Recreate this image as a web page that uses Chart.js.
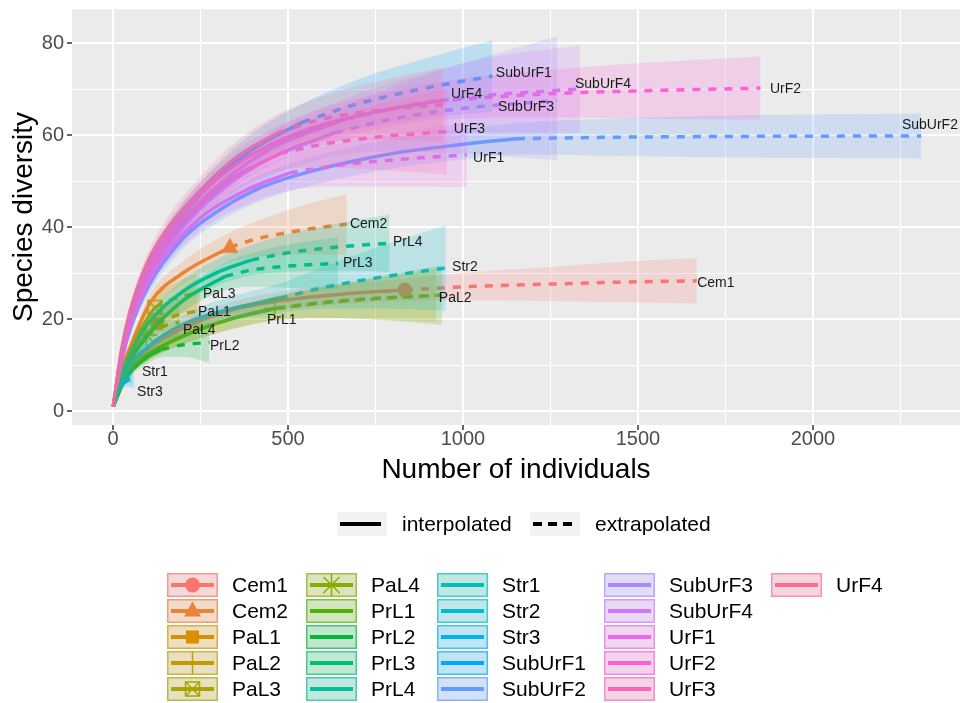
<!DOCTYPE html>
<html>
<head>
<meta charset="utf-8">
<script src="https://cdn.jsdelivr.net/npm/chart.js@4.4.1/dist/chart.umd.min.js"></script>
<style>
  html, body { margin: 0; padding: 0; background: #fff; }
</style>
</head>
<body>
<canvas id="curves" width="960" height="703"></canvas>
<script>
// sites, in legend order
const sites = ['Cem1', 'Cem2', 'PaL1', 'PaL2', 'PaL3', 'PaL4', 'PrL1', 'PrL2', 'PrL3', 'PrL4',
  'Str1', 'Str2', 'Str3', 'SubUrF1', 'SubUrF2', 'SubUrF3', 'SubUrF4', 'UrF1', 'UrF2', 'UrF3', 'UrF4'];

// observed number of individuals (end of the interpolated part)
const observedN = [834, 334, 126, 462, 120, 95, 470, 138, 321, 395, 27, 476, 30, 542, 1154, 635, 667, 505, 925, 477, 472];

// rows: [individuals, species, lower CI, upper CI]
const rowsCem1 = [[1,1,1,1],[50,9.5,8.6,10.4],[100,13.5,12.3,14.7],[200,18,16.5,19.5],[343,22,20.2,23.8],[500,24.2,22.2,26.2],[650,25.4,23.2,27.6],[834,26.3,23.9,28.7],[1000,27,24,30],[1250,27.6,23.9,31.3],[1500,28.1,23.6,32.6],[1668,28.3,23.4,33.2]];
const rowsCem2 = [[1,1,1,1],[25,9,8.1,9.9],[50,14,12.7,15.3],[106,23.5,21.6,25.4],[200,30,27.5,32.5],[334,35.6,32.4,38.8],[400,37.2,33.4,41],[500,38.8,33.9,43.7],[600,40,34.1,45.9],[668,40.6,34,47.2]];
const rowsPaL1 = [[1,1,1,1],[25,7,6.1,7.9],[50,11.5,10.1,12.9],[90,16,14.1,17.9],[126,19,16.6,21.4],[170,20.5,17.4,23.6],[210,21.3,17.6,25],[252,21.8,17.6,26]];
const rowsPaL2 = [[1,1,1,1],[25,6,5.3,6.7],[50,9,8,10],[100,12.3,11,13.6],[150,14.5,13,16],[250,17.8,15.8,19.8],[350,20.3,18,22.6],[462,22.3,19.7,24.9],[600,23.5,20.1,26.9],[750,24.4,19.9,28.9],[924,25.1,19.4,30.8]];
const rowsPaL3 = [[1,1,1,1],[25,8,7.1,8.9],[50,13,11.6,14.4],[85,18.5,16.5,20.5],[120,22.5,20,25],[160,24,20.9,27.1],[200,25,21.3,28.7],[240,25.6,21.4,29.8]];
const rowsPaL4 = [[1,1,1,1],[25,7,6.1,7.9],[50,11,9.7,12.3],[95,16.5,14.4,18.6],[130,18,15.3,20.7],[160,18.8,15.6,22],[190,19.3,15.7,22.9]];
const rowsPrL1 = [[1,1,1,1],[25,6,5.3,6.7],[50,9,8,10],[100,12.3,11,13.6],[150,14.5,13,16],[250,17.8,15.8,19.8],[350,20.3,18,22.6],[470,22.4,19.8,25],[600,23.6,20.3,26.9],[750,24.5,19.9,29.1],[940,25.2,18.7,31.7]];
const rowsPrL2 = [[1,1,1,1],[25,5.5,4.8,6.2],[50,8.5,7.5,9.5],[100,11.8,10.4,13.2],[138,13.4,11.7,15.1],[200,14.4,11.8,17],[276,14.9,10.5,19.3]];
const rowsPrL3 = [[1,1,1,1],[25,7,6.2,7.8],[50,11,9.8,12.2],[100,16.5,14.8,18.2],[200,24,21.5,26.5],[321,29.3,26.3,32.3],[400,30.7,27,34.4],[500,31.5,26.8,36.2],[643,32.1,26.5,37.7]];
const rowsPrL4 = [[1,1,1,1],[25,8,7.2,8.8],[50,12.5,11.2,13.8],[100,19,17.2,20.8],[200,26,23.5,28.5],[300,30.2,27.3,33.1],[395,32.8,29.5,36.1],[500,34.4,30.3,38.5],[650,35.7,30.5,40.9],[790,36.5,30.3,42.7]];
const rowsStr1 = [[1,1,1,1],[10,4,3.5,4.5],[20,5.8,5.1,6.5],[27,6.6,5.7,7.5],[40,7.4,6.1,8.7],[54,7.8,5.9,9.7]];
const rowsStr2 = [[1,1,1,1],[25,6.5,5.8,7.2],[50,10,9,11],[100,14,12.6,15.4],[200,18.8,16.8,20.8],[300,21.5,19,24],[476,24.5,21.3,27.7],[600,26.8,22.3,31.3],[750,28.9,22.3,35.5],[951,31.1,21.8,40.4]];
const rowsStr3 = [[1,1,1,1],[10,3.8,3.3,4.3],[20,5.2,4.5,5.9],[30,6,5.1,6.9],[45,6.8,5.3,8.3],[60,7.2,4.9,9.5]];
const rowsSubUrF1 = [[1,1,1,1],[25,13,12,14],[50,21,19.5,22.5],[100,31,29,33],[150,37.5,35.2,39.8],[250,47,44.2,49.8],[391,56.5,53,60],[542,62.8,58.8,66.8],[700,66.8,61.5,72.1],[900,70.3,63.8,76.8],[1084,72.8,65,80.6]];
const rowsSubUrF2 = [[1,1,1,1],[25,11,10,12],[50,18,16.6,19.4],[100,27,25.2,28.8],[200,37.5,35.3,39.7],[300,43.5,41,46],[400,47.8,45,50.6],[514,51,48,54],[763,55.5,52.3,58.7],[1000,58,54.7,61.3],[1154,59.2,55.8,62.6],[1400,59.5,55.5,63.5],[1800,59.7,55.1,64.3],[2309,59.8,54.9,64.7]];
const rowsSubUrF3 = [[1,1,1,1],[25,12,11,13],[50,19.5,18,21],[100,29,27,31],[200,40,37.5,42.5],[300,47.5,44.5,50.5],[450,55,51,59],[635,60.5,55.5,65.5],[800,63.5,56.5,70.5],[1000,65.8,56,75.6],[1269,67.5,54.5,81.5]];
const rowsSubUrF4 = [[1,1,1,1],[25,12.5,11.5,13.5],[50,20.5,19,22],[100,30.5,28.5,32.5],[200,41.5,39,44],[300,49,46,52],[450,57,53.5,60.5],[667,63.5,59,68],[850,66.5,60.5,72.5],[1050,68.5,60.5,76.5],[1334,70,60.5,79.5]];
const rowsUrF1 = [[1,1,1,1],[25,11,10,12],[50,18.5,17,20],[100,28,26,30],[150,34,31.7,36.3],[250,42,39.3,44.7],[380,48,44.8,51.2],[505,51.8,48,55.6],[650,53.5,48.8,58.2],[800,54.6,48.8,60.4],[1011,55.7,48.7,62.7]];
const rowsUrF2 = [[1,1,1,1],[25,13,12,14],[50,21.5,20,23],[100,31.5,29.5,33.5],[200,43,40.5,45.5],[350,53.5,50.5,56.5],[550,61,57.5,64.5],[750,65,61.2,68.8],[925,67.4,63.3,71.5],[1200,68.8,63.8,73.8],[1500,69.6,63.6,75.6],[1850,70.2,63.3,77.1]];
const rowsUrF3 = [[1,1,1,1],[25,12,11,13],[50,19.5,18,21],[100,29.5,27.5,31.5],[150,36,33.5,38.5],[250,45,42,48],[350,51,47.8,54.2],[477,56,52.2,59.8],[600,58,53,63],[750,59.5,52.5,66.5],[954,60.8,51.5,70.1]];
const rowsUrF4 = [[1,1,1,1],[25,13.5,12.5,14.5],[50,22,20.5,23.5],[100,32.5,30.5,34.5],[150,39,36.5,41.5],[250,48,45,51],[350,55,51.5,58.5],[472,60.5,56.5,64.5],[600,63.5,58.5,68.5],[750,65.3,59,71.6],[943,66.6,58.5,74.7]];

const siteRows = [rowsCem1, rowsCem2, rowsPaL1, rowsPaL2, rowsPaL3, rowsPaL4, rowsPrL1, rowsPrL2, rowsPrL3, rowsPrL4,
  rowsStr1, rowsStr2, rowsStr3, rowsSubUrF1, rowsSubUrF2, rowsSubUrF3, rowsSubUrF4, rowsUrF1, rowsUrF2, rowsUrF3, rowsUrF4];

// where the site names sit (data units: left edge, middle)
const labelX = [1669, 677, 243, 931, 257, 200, 440, 277, 657, 800, 83, 969, 69, 1094, 2254, 1100, 1320, 1029, 1877, 974, 966];
const labelY = [27.8, 40.7, 21.5, 24.6, 25.4, 17.6, 19.8, 14.1, 32.2, 36.7, 8.5, 31.3, 4.1, 73.5, 62.2, 66.1, 71, 55, 70, 61.3, 68.9];

const xMajor = [0, 500, 1000, 1500, 2000];
const xMinor = [250, 750, 1250, 1750, 2250];
const yMajor = [0, 20, 40, 60, 80];
const yMinor = [10, 30, 50, 70];

// ggplot hue palette for 21 groups
const colours = ['#F8766D', '#EB8335', '#DA8F00', '#C49A00', '#AAA300', '#86AC00', '#50B400', '#00B93A', '#00BE6D', '#00C096',
  '#00C0B6', '#00BDD3', '#00B5EC', '#00A9FF', '#619CFF', '#A58AFF', '#CF78FF', '#EA69EF', '#FB61D7', '#FF62B8', '#FF6C8F'];
const shapes = ['circle', 'triangle', 'square', 'plus', 'boxx', 'asterisk'];

const FONT = '"Liberation Sans", Arial, Helvetica, sans-serif';
// panel rectangle of the reference, in canvas pixels
const PANEL = { left: 72, top: 9, right: 960, bottom: 425 };

function rgba(hex, a) {
  const n = parseInt(hex.slice(1), 16);
  return 'rgba(' + (n >> 16) + ',' + ((n >> 8) & 255) + ',' + (n & 255) + ',' + a + ')';
}

function drawShape(ctx, shape, x, y, col) {
  ctx.save();
  ctx.fillStyle = col;
  ctx.strokeStyle = col;
  ctx.lineWidth = 1.5;
  ctx.beginPath();
  if (shape === 'circle') {
    ctx.arc(x, y, 7.5, 0, Math.PI * 2);
    ctx.fill();
  } else if (shape === 'triangle') {
    ctx.moveTo(x, y - 9.5);
    ctx.lineTo(x + 8.5, y + 5.5);
    ctx.lineTo(x - 8.5, y + 5.5);
    ctx.closePath();
    ctx.fill();
  } else if (shape === 'square') {
    ctx.rect(x - 6.5, y - 6.5, 13, 13);
    ctx.fill();
  } else if (shape === 'plus') {
    ctx.moveTo(x - 11, y); ctx.lineTo(x + 11, y);
    ctx.moveTo(x, y - 11); ctx.lineTo(x, y + 11);
    ctx.stroke();
  } else if (shape === 'boxx') {
    ctx.rect(x - 7, y - 7, 14, 14);
    ctx.moveTo(x - 7, y - 7); ctx.lineTo(x + 7, y + 7);
    ctx.moveTo(x + 7, y - 7); ctx.lineTo(x - 7, y + 7);
    ctx.stroke();
  } else if (shape === 'asterisk') {
    ctx.moveTo(x - 11, y); ctx.lineTo(x + 11, y);
    ctx.moveTo(x, y - 11); ctx.lineTo(x, y + 11);
    ctx.moveTo(x - 8, y - 8); ctx.lineTo(x + 8, y + 8);
    ctx.moveTo(x + 8, y - 8); ctx.lineTo(x - 8, y + 8);
    ctx.stroke();
  }
  ctx.restore();
}

function shapeImage(shape, col) {
  const c = document.createElement('canvas');
  c.width = 26; c.height = 26;
  drawShape(c.getContext('2d'), shape, 13, 13, col);
  return c;
}

// build datasets: ribbons on top of lines, lines on top of points (ggiNEXT layer order)
const datasets = [];
sites.forEach((name, gi) => {
  const rows = siteRows[gi];
  const n = observedN[gi];
  const col = colours[gi];
  const top = 21 - gi;
  datasets.push({
    label: name + ' upper', data: rows.map(r => ({ x: r[0], y: r[3] })),
    borderColor: 'rgba(0,0,0,0)', borderWidth: 1, pointRadius: 0, fill: false, order: top
  });
  datasets.push({
    label: name + ' lower', data: rows.map(r => ({ x: r[0], y: r[2] })),
    borderColor: 'rgba(0,0,0,0)', borderWidth: 1, pointRadius: 0, fill: '-1',
    backgroundColor: rgba(col, 0.2), order: top
  });
  datasets.push({
    label: name + ' interpolated', data: rows.filter(r => r[0] <= n).map(r => ({ x: r[0], y: r[1] })),
    borderColor: col, borderWidth: 3.5, pointRadius: 0, fill: false, order: 100 + top
  });
  datasets.push({
    label: name + ' extrapolated', data: rows.filter(r => r[0] >= n).map(r => ({ x: r[0], y: r[1] })),
    borderColor: col, borderWidth: 3.5, borderDash: [8, 8], borderCapStyle: 'butt',
    pointRadius: 0, fill: false, order: 100 + top
  });
  if (gi < shapes.length) {
    const obs = rows.find(r => r[0] === n);
    datasets.push({
      label: name + ' observed', data: [{ x: n, y: obs[1] }], showLine: false,
      pointStyle: shapeImage(shapes[gi], col), pointRadius: 9, order: 200 + top
    });
  }
});

const panelPlugin = {
  id: 'panel',
  beforeDraw(chart) {
    const { ctx, chartArea: a } = chart;
    ctx.save();
    ctx.fillStyle = '#FFFFFF';
    ctx.fillRect(0, 0, chart.width, chart.height);
    ctx.fillStyle = '#EBEBEB';
    ctx.fillRect(a.left, a.top, a.right - a.left, a.bottom - a.top);
    ctx.restore();
  }
};

const labelPlugin = {
  id: 'siteLabels',
  afterDatasetsDraw(chart) {
    const { ctx, scales } = chart;
    ctx.save();
    ctx.font = '14px ' + FONT;
    ctx.fillStyle = '#1A1A1A';
    ctx.textAlign = 'left';
    ctx.textBaseline = 'middle';
    sites.forEach((name, i) => {
      ctx.fillText(name, scales.x.getPixelForValue(labelX[i]), scales.y.getPixelForValue(labelY[i]));
    });
    ctx.restore();
  }
};

const legendPlugin = {
  id: 'ggLegends',
  afterDraw(chart) {
    const ctx = chart.ctx;
    ctx.save();
    ctx.font = '21px ' + FONT;
    ctx.textBaseline = 'middle';
    ctx.textAlign = 'left';

    // linetype legend
    const lt = [{ x: 337, dash: [], text: 'interpolated' }, { x: 530, dash: [9, 6], text: 'extrapolated' }];
    lt.forEach(k => {
      ctx.fillStyle = '#F2F2F2';
      ctx.fillRect(k.x, 512, 50, 24);
      ctx.strokeStyle = '#000000';
      ctx.lineWidth = 4;
      ctx.setLineDash(k.dash);
      ctx.beginPath();
      ctx.moveTo(k.x + 3, 524);
      ctx.lineTo(k.x + 44, 524);
      ctx.stroke();
      ctx.setLineDash([]);
      ctx.fillStyle = '#000000';
      ctx.fillText(k.text, k.x + 65, 525);
    });

    // site legend, 5 rows, filled by column
    const colX = [167, 306, 437, 604, 771];
    sites.forEach((name, i) => {
      const c = Math.floor(i / 5), r = i % 5;
      const x = colX[c], y = 573 + r * 26;
      const col = colours[i];
      ctx.fillStyle = '#F2F2F2';
      ctx.fillRect(x, y, 51, 24);
      ctx.fillStyle = rgba(col, 0.2);
      ctx.fillRect(x, y, 51, 24);
      ctx.strokeStyle = rgba(col, 0.65);
      ctx.lineWidth = 1.5;
      ctx.strokeRect(x + 0.75, y + 0.75, 49.5, 22.5);
      ctx.strokeStyle = col;
      ctx.lineWidth = 4;
      ctx.beginPath();
      ctx.moveTo(x + 4, y + 12);
      ctx.lineTo(x + 47, y + 12);
      ctx.stroke();
      if (i < shapes.length) drawShape(ctx, shapes[i], x + 25.5, y + 12, col);
      ctx.fillStyle = '#000000';
      ctx.fillText(name, x + 65, y + 13);
    });
    ctx.restore();
  }
};

const isMajorX = v => xMajor.includes(v);
const isMajorY = v => yMajor.includes(v);

function noScalePadding(s) {
  s.paddingTop = 0; s.paddingBottom = 0; s.paddingLeft = 0; s.paddingRight = 0;
}

const chart = new Chart(document.getElementById('curves'), {
  type: 'line',
  data: { datasets },
  options: {
    responsive: false,
    animation: false,
    events: [],
    layout: { autoPadding: false, padding: { top: 9, right: 0, bottom: 210, left: 0 } },
    elements: { line: { cubicInterpolationMode: 'monotone' } },
    plugins: { legend: { display: false }, tooltip: { enabled: false } },
    scales: {
      x: {
        type: 'linear', min: -117, max: 2420,
        afterBuildTicks(s) { s.ticks = xMajor.concat(xMinor).sort((a, b) => a - b).map(v => ({ value: v })); },
        afterFit(s) { s.height = 68; noScalePadding(s); },
        border: { display: false },
        grid: {
          color: '#FFFFFF',
          lineWidth: c => isMajorX(c.tick.value) ? 2 : 1,
          tickLength: 5, tickWidth: 1.5,
          tickColor: c => isMajorX(c.tick.value) ? '#333333' : 'rgba(0,0,0,0)'
        },
        ticks: {
          autoSkip: false, maxRotation: 0, padding: -3,
          color: '#4D4D4D', font: { family: FONT, size: 20 },
          callback: v => isMajorX(v) ? String(v) : ''
        },
        title: {
          display: true, text: 'Number of individuals', color: '#000000',
          font: { family: FONT, size: 28 }, padding: { top: 0, bottom: 6 }
        }
      },
      y: {
        type: 'linear', min: -3.04, max: 87.4,
        afterBuildTicks(s) { s.ticks = yMajor.concat(yMinor).sort((a, b) => a - b).map(v => ({ value: v })); },
        afterFit(s) { s.width = 72; noScalePadding(s); },
        border: { display: false },
        grid: {
          color: '#FFFFFF',
          lineWidth: c => isMajorY(c.tick.value) ? 2 : 1,
          tickLength: 5, tickWidth: 1.5,
          tickColor: c => isMajorY(c.tick.value) ? '#333333' : 'rgba(0,0,0,0)'
        },
        ticks: {
          autoSkip: false, padding: 3,
          color: '#4D4D4D', font: { family: FONT, size: 20 },
          callback: v => isMajorY(v) ? String(v) : ''
        },
        title: {
          display: true, text: 'Species diversity', color: '#000000',
          font: { family: FONT, size: 28 }, padding: { top: 7, bottom: 0 }
        }
      }
    }
  },
  plugins: [panelPlugin, labelPlugin, legendPlugin]
});

// nudge the layout padding so the panel lands on the reference rectangle
const area = chart.chartArea;
const pad = chart.options.layout.padding;
const dRight = area.right - PANEL.right;
const dTop = PANEL.top - area.top;
const dBottom = area.bottom - PANEL.bottom;
const dLeft = PANEL.left - area.left;
if (dRight || dTop || dBottom || dLeft) {
  pad.right += dRight;
  pad.top += dTop;
  pad.bottom += dBottom;
  pad.left += dLeft;
  chart.update();
}
</script>
</body>
</html>
